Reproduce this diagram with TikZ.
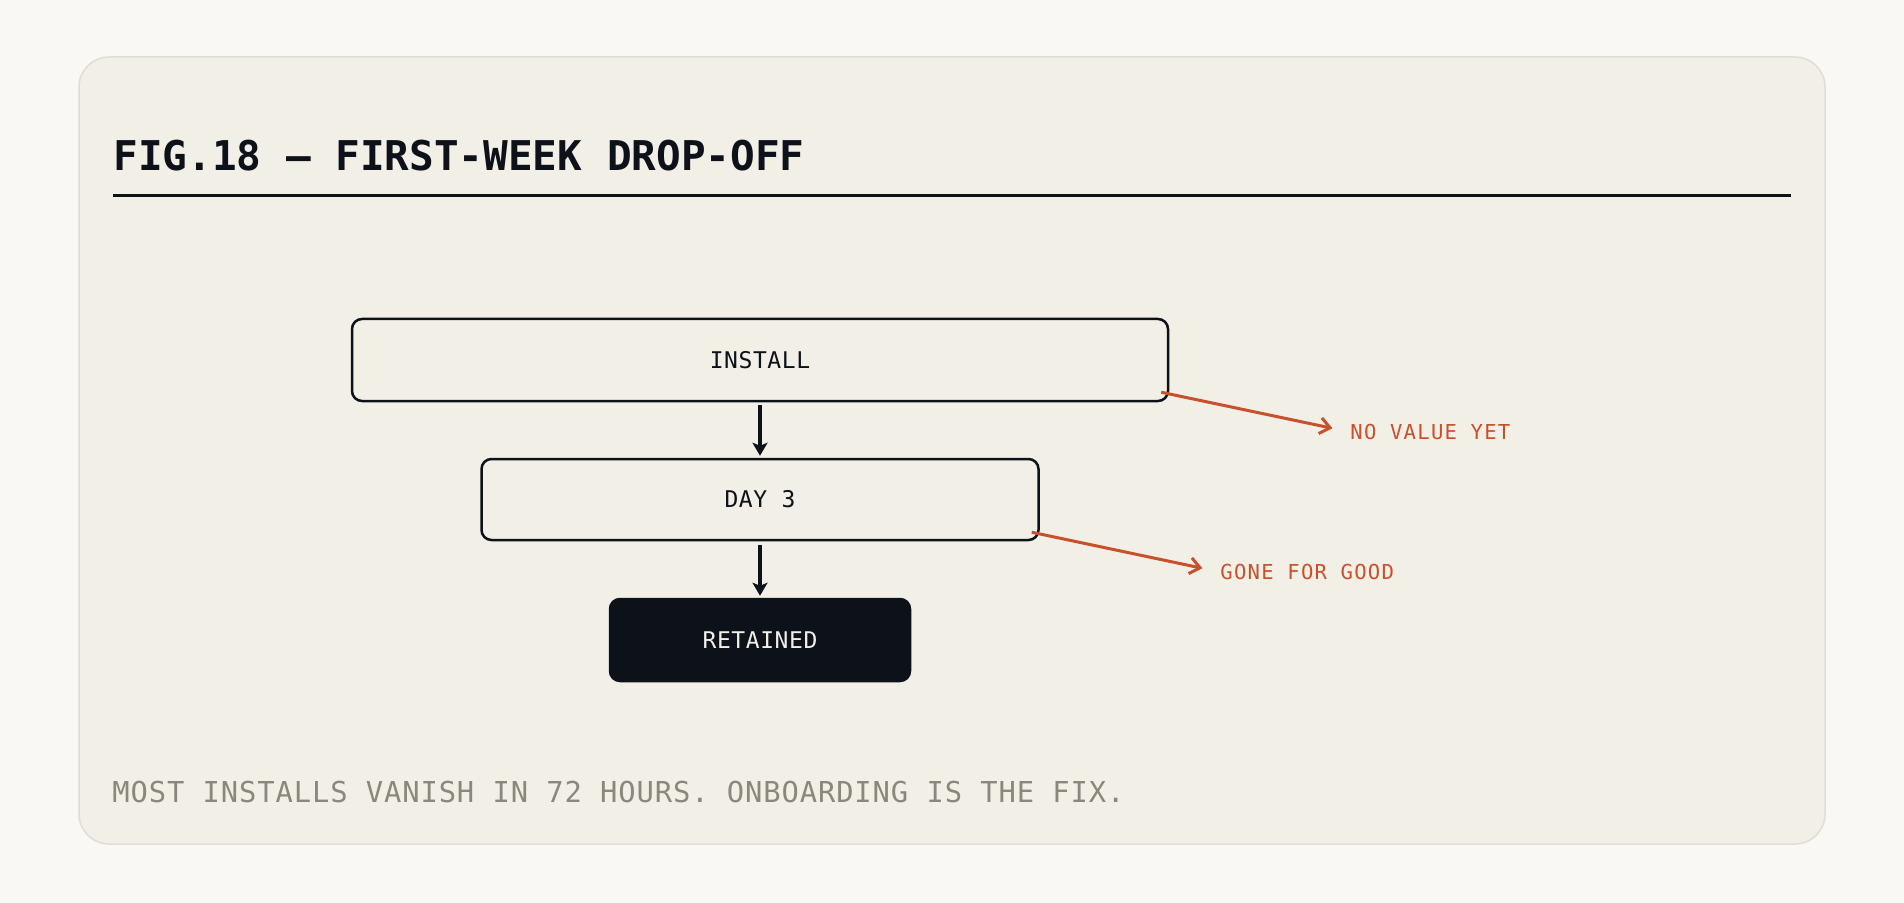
\documentclass[tikz,border=0pt]{standalone}
\usepackage{fontspec}
\usetikzlibrary{arrows.meta,calc}
\newfontfamily\headfont{DejaVu Sans Mono}
\newfontfamily\boxfont[LetterSpace=2.5]{DejaVu Sans Mono}
\newfontfamily\notefont[LetterSpace=6]{DejaVu Sans Mono}
\newfontfamily\footfont[LetterSpace=3.1]{DejaVu Sans Mono}
\definecolor{pagebg}{HTML}{F9F8F4}
\definecolor{cardbg}{HTML}{F2EFE7}
\definecolor{cardline}{HTML}{E0DDD4}
\definecolor{ink}{HTML}{0D111A}
\definecolor{rust}{HTML}{C8502A}
\definecolor{muted}{HTML}{8A887A}
\tikzset{
  stage/.style={draw=ink, line width=1.25pt, rounded corners=5pt, fill=cardbg,
    text=ink, font=\boxfont\fontsize{11.5}{13}\selectfont, inner sep=0pt},
  stagedark/.style={stage, fill=ink, text=cardbg},
  flow/.style={draw=ink, line width=1.6pt, -{Stealth[length=6.5pt,width=7.5pt,inset=1.5pt]}},
  drop/.style={draw=rust, line width=1.5pt, -{Straight Barb[length=5pt,width=8pt]}, shorten >=9pt},
  droplabel/.style={text=rust, font=\notefont\fontsize{10.3}{12}\selectfont, inner sep=0pt, anchor=west}
}
\begin{document}
\begin{tikzpicture}[x=0.5pt,y=-0.5pt]
  \useasboundingbox[fill=pagebg] (0,0) rectangle (1904,903);
  \draw[cardline, fill=cardbg, line width=0.75pt, rounded corners=15pt] (79,57) rectangle (1825,844);
  % heading
  \node (title) at (113,171) [anchor=base west, inner sep=0pt, text=ink, font=\headfont\bfseries\fontsize{20.5}{24}\selectfont] {FIG.18 — FIRST-WEEK DROP-OFF};
  \draw[ink, line width=1.25pt] (113,195.5) -- (1791,195.5);
  % funnel
  \node (install) at (760,360) [stage, minimum width=408pt, minimum height=41pt] {INSTALL};
  \node (day) at (760,499.5) [stage, minimum width=278.5pt, minimum height=40.5pt] {DAY 3};
  \node (retained) at (760,640) [stagedark, minimum width=150pt, minimum height=41pt] {RETAINED};
  \draw[flow] ($(install.south)+(0,3)$) -- ($(day.north)+(0,-2)$);
  \draw[flow] ($(day.south)+(0,4)$) -- ($(retained.north)+(0,-2)$);
  % losses
  \node (novalue) at (1350,432) [droplabel] {NO VALUE YET};
  \node (gone) at (1220,572) [droplabel] {GONE FOR GOOD};
  \draw[drop] ($(install.south east)+(-8,-10)$) -- (novalue.west);
  \draw[drop] ($(day.south east)+(-8,-9)$) -- (gone.west);
  % caption
  \node (caption) at (112,802) [anchor=base west, inner sep=0pt, text=muted, font=\footfont\fontsize{14.4}{17}\selectfont] {MOST INSTALLS VANISH IN 72 HOURS. ONBOARDING IS THE FIX.};
\end{tikzpicture}
\end{document}
